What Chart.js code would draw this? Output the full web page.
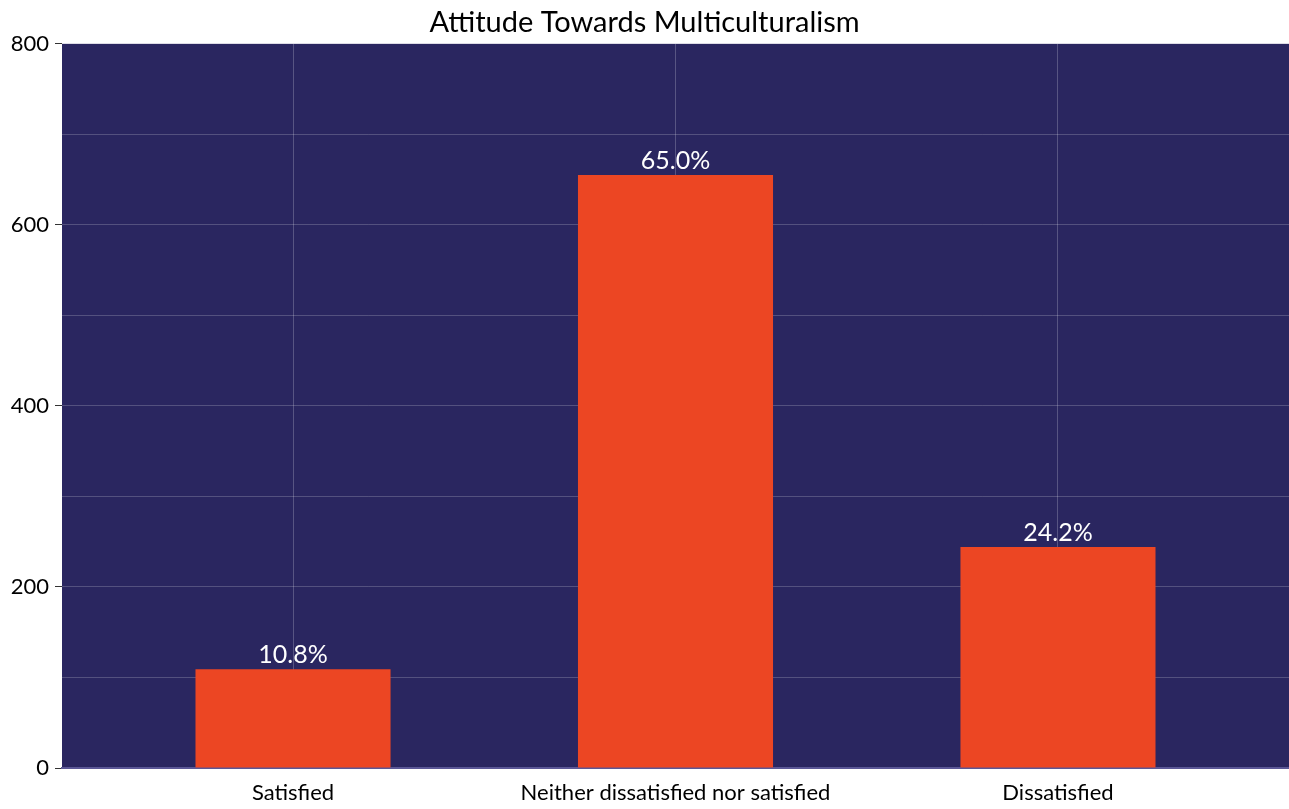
<!DOCTYPE html>
<html>
<head>
<meta charset="utf-8">
<script src="https://cdn.jsdelivr.net/npm/chart.js@4.4.1/dist/chart.umd.min.js"></script>
<style>
  html, body { margin: 0; padding: 0; background: #ffffff; }
  #wrap { width: 1289px; height: 809px; }
</style>
</head>
<body>
<div id="wrap"><canvas id="myChart"></canvas></div>
<script>
// Datos de la grafica
const categories = ['Satisfied', 'Neither dissatisfied nor satisfied', 'Dissatisfied'];
const counts = [109, 655, 244];
const percentLabels = ['10.8%', '65.0%', '24.2%'];
const yTicks = [0, 200, 400, 600, 800];

const fontName = 'Lato, "Open Sans", sans-serif';

// fondo del area de la grafica
const plotBg = {
  id: 'plotBg',
  beforeDraw(chart) {
    const a = chart.chartArea;
    const c = chart.ctx;
    c.save();
    c.fillStyle = '#2a2660';
    c.fillRect(a.left, a.top, a.right - a.left, a.bottom - a.top);
    c.restore();
  }
};

// etiquetas de porcentaje arriba de cada barra
const barLabels = {
  id: 'barLabels',
  afterDatasetsDraw(chart) {
    const c = chart.ctx;
    const meta = chart.getDatasetMeta(0);
    c.save();
    c.fillStyle = '#ffffff';
    c.font = '25px ' + fontName;
    c.textAlign = 'center';
    c.textBaseline = 'bottom';
    meta.data.forEach((bar, i) => {
      c.fillText(percentLabels[i], bar.x, bar.y - 2);
    });
    c.restore();
  }
};

const ctx = document.getElementById('myChart');

new Chart(ctx, {
  type: 'bar',
  data: {
    datasets: [{
      data: counts.map((v, i) => ({ x: i, y: v })),
      backgroundColor: '#ec4623',
      borderWidth: 0,
      barPercentage: 0.51,
      categoryPercentage: 1
    }]
  },
  options: {
    responsive: true,
    maintainAspectRatio: false,
    animation: false,
    layout: { padding: { top: 0, right: 0, left: 0, bottom: 0 } },
    plugins: {
      legend: { display: false },
      tooltip: { enabled: false },
      title: {
        display: true,
        text: 'Attitude Towards Multiculturalism',
        color: '#000000',
        font: { family: fontName, size: 29, weight: 'normal' },
        padding: { top: 5, bottom: 4 }
      }
    },
    scales: {
      x: {
        type: 'linear',
        offset: false,
        min: -0.604,
        max: 2.604,
        afterBuildTicks(scale) {
          scale.ticks = categories.map((c, i) => ({ value: i }));
        },
        afterFit(scale) { scale.height = 41; },
        ticks: {
          color: '#000000',
          font: { family: fontName, size: 22 },
          padding: 12,
          callback: (v) => categories[v]
        },
        grid: {
          offset: false,
          color: 'rgba(255,255,255,0.22)',
          drawTicks: false
        },
        border: { color: '#5b5796', width: 2 }
      },
      y: {
        min: 0,
        max: 800,
        afterFit(scale) { scale.width = 62; },
        ticks: {
          stepSize: 100,
          color: '#000000',
          font: { family: fontName, size: 22 },
          padding: 6,
          callback: (v) => yTicks.includes(v) ? v : ''
        },
        grid: {
          color: 'rgba(255,255,255,0.2)',
          tickLength: 7,
          tickColor: (c) => yTicks.includes(c.tick && c.tick.value) ? '#333333' : 'rgba(0,0,0,0)'
        },
        border: { display: false }
      }
    }
  },
  plugins: [plotBg, barLabels]
});
</script>
</body>
</html>
